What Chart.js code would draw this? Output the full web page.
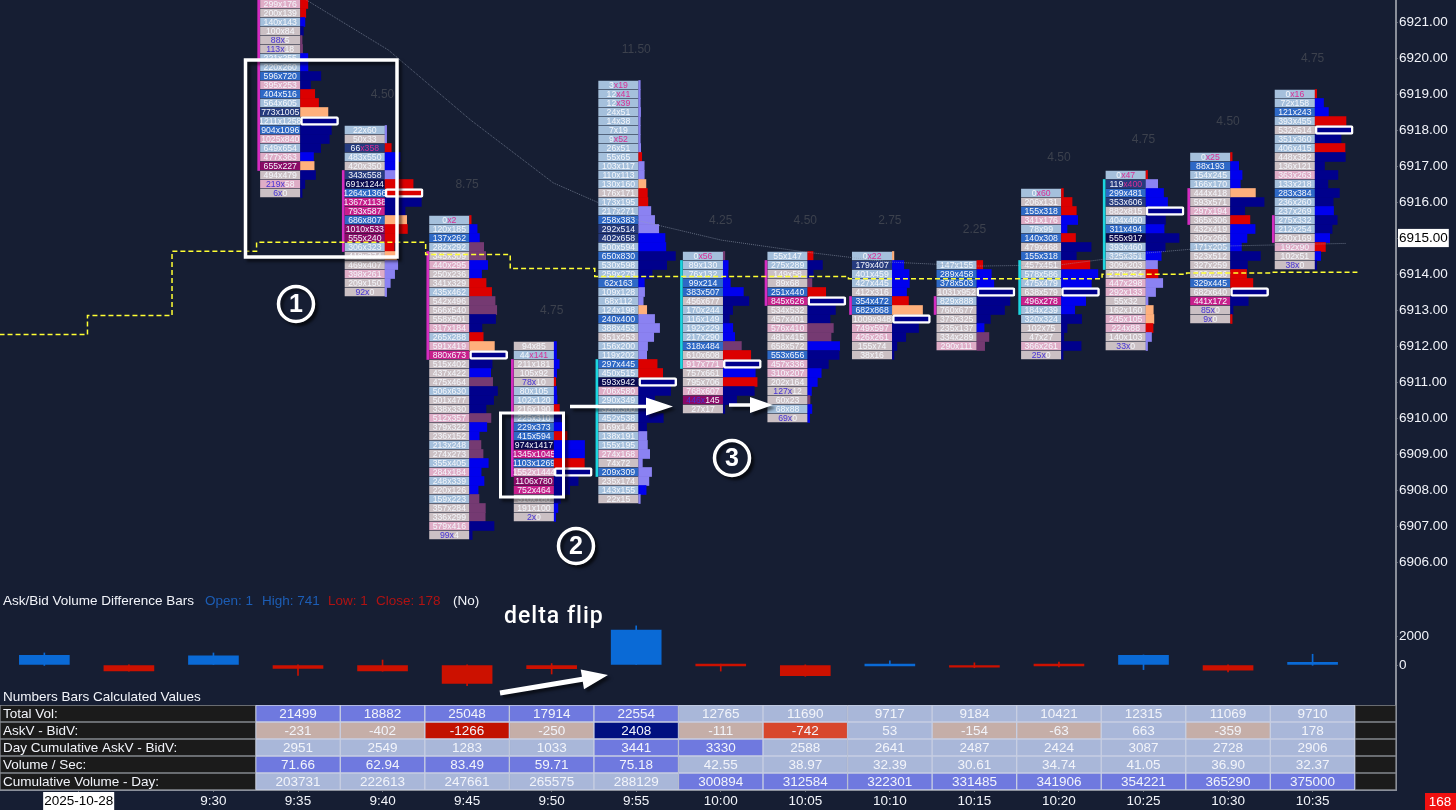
<!DOCTYPE html>
<html>
<head>
<meta charset="utf-8">
<style>
  html, body { margin: 0; padding: 0; background: #161e33; overflow: hidden; }
  canvas { display: block; }
</style>
<script src="https://cdn.jsdelivr.net/npm/chart.js@4"></script>
</head>
<body>
<canvas id="chart" width="1456" height="810"></canvas>
<script>
// bar times, first entry is the date shown on the axis
const tickLabels = ['2025-10-28', '9:30', '9:35', '9:40', '9:45', '9:50', '9:55', '10:00', '10:05', '10:10', '10:15', '10:20', '10:25', '10:30', '10:35'];
const priceTicks = [6921, 6920, 6919, 6918, 6917, 6916, 6915, 6914, 6913, 6912, 6911, 6910, 6909, 6908, 6907, 6906];

// footprint: highest price of each bar, then bid x ask from the top row down
const topPrices = [6921.5, 6918, 6915.5, 6912, 6919.25, 6914.5, 6914.5, 6914.5, 6914.25, 6916.25, 6916.75, 6917.25, 6919];
const footprints = [
  ['299x176','200x139','140x143','100x84','88x5','113x18','221x255','220x260','596x720','395x253','404x516','564x605','773x1005','1211x1258','904x1096','1025x840','649x654','477x363','655x227','494x479','219x58','6x0'],
  ['22x60','50x33','66x358','483x550','420x350','343x558','691x1244','1264x1366','1367x1138','793x587','686x807','1010x533','555x240','306x323','418x374','469x407','398x261','209x150','92x0'],
  ['0x2','120x185','137x262','282x292','345x309','440x295','250x236','341x329','435x462','542x496','566x540','558x501','317x184','265x288','591x419','880x673','515x402','437x422','475x464','506x630','501x477','338x330','512x357','379x322','236x152','213x248','274x273','355x405','284x184','248x339','220x126','159x223','357x284','336x299','579x416','99x4'],
  ['94x85','44x141','211x181','105x92','78x10','80x105','102x120','216x190','225x310','229x373','415x594','974x1417','1345x1045','1103x1269','1552x1444','1106x780','752x464','310x180','191x100','2x0'],
  ['3x19','12x41','12x39','24x51','14x38','7x19','9x52','26x51','55x65','103x117','110x113','130x160','176x171','173x195','217x271','258x383','292x514','402x658','500x594','650x830','530x598','259x279','62x163','109x128','68x112','124x198','240x400','388x453','351x253','156x200','119x202','297x445','450x515','593x942','706x580','290x349','320x300','452x538','169x146','138x191','155x195','274x168','74x72','209x309','235x174','143x155','22x15'],
  ['0x56','89x130','76x132','99x214','383x507','456x677','170x244','116x149','192x229','217x290','318x484','610x608','917x771','757x661','795x706','768x607','446x145','27x17'],
  ['55x147','275x289','149x58','89x68','251x440','845x626','534x532','457x401','576x410','481x415','658x572','553x656','457x336','310x207','202x164','127x12','60x23','68x88','69x0'],
  ['0x22','179x407','401x459','427x445','412x316','354x472','682x868','1009x948','749x597','426x261','155x74','38x16'],
  ['147x155','289x458','378x503','1031x952','829x888','760x677','373x325','235x137','334x289','290x111'],
  ['0x60','206x131','155x318','341x176','78x99','140x308','479x468','155x318','457x451','578x586','475x479','638x579','496x278','184x239','320x324','102x75','47x27','366x261','25x0'],
  ['0x47','119x400','299x481','353x606','882x815','404x460','311x494','555x917','393x460','325x351','309x203','270x264','447x298','292x133','55x32','162x160','245x105','224x88','140x103','33x0'],
  ['0x25','88x193','154x245','166x170','444x418','593x571','297x194','365x306','432x419','302x266','171x205','523x512','327x259','300x256','329x445','682x640','441x172','85x0','9x0'],
  ['0x16','72x158','121x243','393x455','532x514','351x360','406x415','448x382','136x121','363x263','133x218','283x384','236x260','237x269','275x332','212x254','230x169','192x90','102x51','38x0']
];
// one letter per row: shade of the number cell
const cellShades = ['pgagggaabpbanabpapkgpg', 'agnagndbmmbkkaggpgg', 'aabagpggagggpapmgggaggpggagapagaggpg', 'gagggaagabbdmbpkmggg', 'aaaaaaaaaaaagaabnnabaabaaabagaabadpaaagaapgbgag', 'aaabbgaaaabgpggpkg', 'aaggbmggpggbppgggag', 'anaagbbgppgg', 'abbgaggggp', 'agbpabgbgaagmaaggpg', 'anbngabdaaggppggppgg', 'abaaggpgggagggbgmgg', 'aabagaaggpabaaaagpgg'];
// one letter per row: colour of the volume profile bar
const profileShades = ['rrBDvvBBDDrroDDDDBoDDD', 'llrBBlrrDDorrrollll', 'rBBvvBBrrvvDDroDDBvDDDvBBvvBBBBvvvDD', 'BBBBrBBrDBrBBrDDDDBB', 'llllllllrllorrlllBBDDDBllolllllrrDDDDDDllllllBl', 'vBBBBDDDBBvrDBrDDD', 'rDDvrDDDvvBDDBBBvBB', 'oBBBBroDDDDD', 'rBBDDDDBvv', 'rrrBBrDDrBBDBBDDDDD', 'rlBBDDBDDBlrllloorll', 'rBBBoDDrBBBDDrrDDDr', 'rBBrDDrDDDDDDBDDBrBD'];

const rangeLabels = ['', '4.50', '8.75', '4.75', '11.50', '4.25', '4.50', '2.75', '2.25', '4.50', '4.75', '4.50', '4.75'];

// open/close body drawn beside each footprint
const bodyHigh = [6921.625, 6916.875, 6914.625, 6911.625, 6911.625, 6914.375, 6914.375, 6913.375, 6913.375, 6914.375, 6916.625, 6916.375, 6915.625];
const bodyLow = [6916.875, 6914.625, 6911.625, 6908.375, 6908.375, 6911.375, 6913.125, 6912.875, 6912.875, 6912.875, 6914.125, 6915.375, 6914.875];
const bodyUp = [false, false, false, false, true, true, false, false, false, true, true, false, false];

// yellow step line and the faint grey line, [bar position, price]
const vwapLine = [[-3.53,6912.32],[-2.49,6912.85],[-1.49,6914.63],[-0.49,6914.88],[0.51,6914.88],[1.51,6914.54],[2.51,6914.15],[3.51,6913.93],[4.51,6913.93],[5.51,6913.93],[6.51,6913.87],[7.51,6913.87],[8.51,6913.87],[9.51,6913.99],[10.51,6914.03],[11.51,6914.05],[12.53,6914.05]];
const greyLine = [[0.1,6921.61],[1.07,6920.22],[2.04,6918.28],[3.02,6916.53],[4.05,6915.47],[5.01,6914.94],[6,6914.61],[7.01,6914.33],[8.02,6914.22],[9,6914.25],[9.5,6914.4],[10.02,6914.58],[11.02,6914.78],[12.01,6914.83],[12.4,6914.85]];

// delta pane, first three bars start before the footprints
const deltaBars = [-3, -2, -1, 0, 1, 2, 3, 4, 5, 6, 7, 8, 9, 10, 11, 12];
const deltaValues = [670, -410, 640, -231, -402, -1266, -250, 2408, -111, -742, 53, -154, -63, 663, -359, 178];
const deltaHigh = [830, 20, 830, 20, 345, 20, 100, 2700, 60, 10, 280, 150, 210, 690, 10, 741];
const deltaLow = [-30, -430, 0, -710, -430, -1430, -620, 0, -420, -780, -40, -190, -140, -320, -480, -20];

// table below the chart
const rowNames = ['Total Vol:', 'AskV - BidV:', 'Day Cumulative AskV - BidV:', 'Volume / Sec:', 'Cumulative Volume - Day:'];
const totalVol = ['21499','18882','25048','17914','22554','12765','11690','9717','9184','10421','12315','11069','9710'];
const askBid = ['-231','-402','-1266','-250','2408','-111','-742','53','-154','-63','663','-359','178'];
const dayCumulative = ['2951','2549','1283','1033','3441','3330','2588','2641','2487','2424','3087','2728','2906'];
const volPerSec = ['71.66','62.94','83.49','59.71','75.18','42.55','38.97','32.39','30.61','34.74','41.05','36.90','32.37'];
const cumVolume = ['203731','222613','247661','265575','288129','300894','312584','322301','331485','341906','354221','365290','375000'];
const tableRows = [totalVol, askBid, dayCumulative, volPerSec, cumVolume];
const tableShades = ['sssssaaaaaaaa', 'ttrtntoattata', 'aaaassaaaaaaa', 'sssssaaaaaaaa', 'aaaaassssssss'];

const cellColours = { a: '#a5c0dc', b: '#2e69c6', n: '#263b7e', d: '#0a0a50', g: '#cbc0c4', p: '#dfadc7', m: '#c81f8c', k: '#8a0a66' };
const profileColours = { r: '#dc0000', B: '#0000ee', D: '#00008c', l: '#8b82f2', o: '#ffb07c', v: '#753a72' };
const tableColours = { a: '#a9b7d9', s: '#6f79df', t: '#c5aea8', r: '#c21200', n: '#001080', o: '#d8472c' };

const FONT = '"Liberation Sans", Arial, sans-serif';
const cellFrom = -0.444, cellTo = 0.024, profileFrom = 0.03, profileWidth = 0.45;

const cellData = [], cellBg = [], cellText = [];
const profileData = [], profileBg = [];
const pocData = [], pocBg = [];
footprints.forEach((rows, i) => {
  const totals = rows.map(r => r.split('x').reduce((a, b) => a + Number(b), 0));
  const most = Math.max(...totals);
  rows.forEach((label, k) => {
    const price = topPrices[i] - k * 0.25;
    cellData.push({ x: [i + cellFrom, i + cellTo], y: price });
    cellBg.push(cellColours[cellShades[i][k]]);
    cellText.push(label);
    const end = i + profileFrom + Math.max(totals[k] / most * profileWidth, 0.018);
    const colour = profileColours[profileShades[i][k]];
    if (totals[k] === most) {
      pocData.push({ x: [i + profileFrom, end], y: price });
      pocBg.push(colour);
    } else {
      profileData.push({ x: [i + profileFrom, end], y: price });
      profileBg.push(colour);
    }
  });
});

const tableData = [], tableBg = [], tableText = [];
tableRows.forEach((row, r) => {
  row.forEach((v, i) => {
    tableData.push({ x: [i - 0.5, i + 0.5], y: r + 0.5 });
    tableBg.push(tableColours[tableShades[r][i]]);
    tableText.push(v);
  });
});
const xMin = -298 / 84.55, xMax = (1396 - 298) / 84.55;
const sideData = [];
rowNames.forEach((n, r) => {
  sideData.push({ x: [xMin, -0.5], y: r + 0.5 });
  sideData.push({ x: [12.5, xMax], y: r + 0.5 });
});

const drawCellLabels = (chart, meta) => {
  const ctx = chart.ctx;
  ctx.save();
  ctx.font = '8.7px ' + FONT;
  ctx.textBaseline = 'middle';
  ctx.textAlign = 'left';
  meta.data.forEach((el, n) => {
    const [bid, ask] = cellText[n].split('x');
    const c = el.getCenterPoint();
    let left = bid + 'x', right = ask, leftCol = '#f4f6fb', rightCol = '#f4f6fb';
    if (+ask >= 3 * +bid) { left = bid; right = 'x' + ask; rightCol = '#d92f95'; }
    else if (+bid >= 3 * +ask) { leftCol = '#4733d6'; }
    const w1 = ctx.measureText(left).width, w2 = ctx.measureText(right).width;
    const sx = c.x - (w1 + w2) / 2;
    ctx.fillStyle = leftCol;
    ctx.fillText(left, sx, c.y + 0.5);
    ctx.fillStyle = rightCol;
    ctx.fillText(right, sx + w1, c.y + 0.5);
  });
  ctx.restore();
};

const shadowOn = ctx => {
  ctx.shadowColor = 'rgba(0,0,0,0.55)';
  ctx.shadowBlur = 3;
  ctx.shadowOffsetX = 3;
  ctx.shadowOffsetY = 3;
};

const drawArrow = (ctx, x1, y1, x2, y2, head, half, lw) => {
  const a = Math.atan2(y2 - y1, x2 - x1);
  ctx.save();
  shadowOn(ctx);
  ctx.translate(x1, y1);
  ctx.rotate(a);
  const len = Math.hypot(x2 - x1, y2 - y1);
  ctx.fillStyle = '#ffffff';
  ctx.beginPath();
  ctx.moveTo(0, -lw / 2);
  ctx.lineTo(len - head, -lw / 2);
  ctx.lineTo(len - head, -half);
  ctx.lineTo(len, 0);
  ctx.lineTo(len - head, half);
  ctx.lineTo(len - head, lw / 2);
  ctx.lineTo(0, lw / 2);
  ctx.closePath();
  ctx.fill();
  ctx.restore();
};

const drawBadge = (ctx, x, y, text) => {
  ctx.save();
  shadowOn(ctx);
  ctx.beginPath();
  ctx.arc(x, y, 17.5, 0, Math.PI * 2);
  ctx.fillStyle = '#161e33';
  ctx.fill();
  ctx.lineWidth = 3.5;
  ctx.strokeStyle = '#ffffff';
  ctx.stroke();
  ctx.shadowColor = 'transparent';
  ctx.fillStyle = '#ffffff';
  ctx.font = 'bold 25px ' + FONT;
  ctx.textAlign = 'center';
  ctx.textBaseline = 'middle';
  ctx.fillText(text, x, y + 1);
  ctx.restore();
};

const overlay = {
  id: 'overlay',
  afterDatasetDraw(chart, args) {
    if (args.index === 0) drawCellLabels(chart, args.meta);
  },
  afterDraw(chart) {
    const ctx = chart.ctx, x = chart.scales.x, y = chart.scales.y;
    ctx.save();

    // table text
    const tableMeta = chart.getDatasetMeta(1);
    ctx.font = '13.5px ' + FONT;
    ctx.textBaseline = 'middle';
    ctx.textAlign = 'center';
    ctx.fillStyle = '#f2f4fa';
    tableMeta.data.forEach((el, n) => {
      const c = el.getCenterPoint();
      ctx.fillText(tableText[n], c.x, c.y + 0.5);
    });
    ctx.textAlign = 'left';
    rowNames.forEach((n, r) => {
      ctx.fillText(n, 3, chart.scales.t.getPixelForValue(r + 0.5) + 0.5);
    });

    // pane titles
    ctx.fillStyle = '#f2f4fa';
    ctx.fillText('Ask/Bid Volume Difference Bars', 3, 601);
    ctx.fillText('Numbers Bars Calculated Values', 3, 697);
    ctx.fillText('(No)', 453, 601);
    ctx.fillStyle = '#1c5db5';
    ctx.fillText('Open: 1', 205, 601);
    ctx.fillText('High: 741', 262, 601);
    ctx.fillStyle = '#b01212';
    ctx.fillText('Low: 1', 328, 601);
    ctx.fillText('Close: 178', 376, 601);

    // bar range text above each footprint
    ctx.font = '12px ' + FONT;
    ctx.textAlign = 'center';
    ctx.fillStyle = '#3c414d';
    rangeLabels.forEach((t, i) => {
      if (t) ctx.fillText(t, x.getPixelForValue(i), y.getPixelForValue(topPrices[i] + 0.97));
    });

    // last volume box
    ctx.fillStyle = '#f01010';
    ctx.fillRect(1425, 793, 31, 17);
    ctx.fillStyle = '#ffffff';
    ctx.font = '13.5px ' + FONT;
    ctx.fillText('168', 1440, 802);

    // hand drawn marks on the screenshot
    ctx.save();
    shadowOn(ctx);
    ctx.strokeStyle = '#ffffff';
    ctx.lineWidth = 3.5;
    ctx.strokeRect(245.5, 60, 151.5, 197);
    ctx.lineWidth = 3;
    ctx.strokeRect(500.5, 413, 63, 84);
    ctx.restore();
    drawArrow(ctx, 570, 406.5, 673, 406.5, 27, 9, 3.5);
    drawArrow(ctx, 729, 405, 773, 405, 23, 8, 3.5);
    drawArrow(ctx, 500, 693, 608, 675, 26, 10, 5);
    drawBadge(ctx, 296, 304, '1');
    drawBadge(ctx, 576, 546, '2');
    drawBadge(ctx, 732, 458, '3');
    ctx.fillStyle = '#ffffff';
    ctx.font = '500 23px Roboto, ' + FONT;
    ctx.letterSpacing = '1px';
    ctx.textAlign = 'left';
    ctx.fillText('delta flip', 504, 617);
    ctx.restore();
  }
};

// axis labels may not push the panes in from the canvas edge
const fixBox = (s, size) => {
  if (s.isHorizontal()) s.height = size; else s.width = size;
  s.paddingTop = 0;
  s.paddingBottom = 0;
  s.paddingLeft = 0;
  s.paddingRight = 0;
};

new Chart(document.getElementById('chart'), {
  type: 'bar',
  plugins: [overlay],
  data: {
    datasets: [
      { data: cellData, indexAxis: 'y', yAxisID: 'y', xAxisID: 'x', backgroundColor: cellBg, barThickness: 8, grouped: false, order: 6 },
      { data: tableData, indexAxis: 'y', yAxisID: 't', xAxisID: 'x', backgroundColor: tableBg, borderColor: '#c7cee2', borderWidth: 1, borderSkipped: false, barThickness: 17, grouped: false, order: 7 },
      { data: sideData, indexAxis: 'y', yAxisID: 't', xAxisID: 'x', backgroundColor: '#1b1b1b', borderColor: '#85888f', borderWidth: 1, borderSkipped: false, barThickness: 17, grouped: false, order: 8 },
      { data: profileData, indexAxis: 'y', yAxisID: 'y', xAxisID: 'x', backgroundColor: profileBg, barThickness: 9, grouped: false, order: 5 },
      { data: pocData, indexAxis: 'y', yAxisID: 'y', xAxisID: 'x', backgroundColor: pocBg, borderColor: '#ffffff', borderWidth: 2.5, borderSkipped: false, borderRadius: 2, barThickness: 9, grouped: false, order: 4 },
      { data: bodyHigh.map((h, i) => ({ x: i - 0.465, y: [h, bodyLow[i]] })), yAxisID: 'y', xAxisID: 'x',
        backgroundColor: bodyUp.map(u => u ? '#1cd6e0' : '#d42cc0'), barThickness: 2, grouped: false, order: 5 },
      { data: deltaBars.map((b, i) => ({ x: b, y: [deltaLow[i], deltaHigh[i]] })), yAxisID: 'd', xAxisID: 'x',
        backgroundColor: deltaValues.map(v => v >= 0 ? '#0a6ad6' : '#cc1100'), barThickness: 1, grouped: false, order: 3 },
      { data: deltaBars.map((b, i) => ({ x: b, y: [0, deltaValues[i]] })), yAxisID: 'd', xAxisID: 'x',
        backgroundColor: deltaValues.map(v => v >= 0 ? '#0a6ad6' : '#cc1100'), barThickness: 50, minBarLength: 2, grouped: false, order: 2 },
      { type: 'line', data: greyLine.map(p => ({ x: p[0], y: p[1] })), yAxisID: 'y', xAxisID: 'x',
        borderColor: 'rgba(150,160,180,0.6)', borderWidth: 1, borderDash: [1, 1], pointRadius: 0, tension: 0, order: 1 },
      { type: 'line', data: vwapLine.map(p => ({ x: p[0], y: p[1] })), yAxisID: 'y', xAxisID: 'x',
        borderColor: '#ffff33', borderWidth: 1.5, borderDash: [5, 3], pointRadius: 0, stepped: 'before', order: 0 }
    ]
  },
  options: {
    responsive: false,
    animation: false,
    events: [],
    layout: { padding: 0 },
    font: { family: FONT },
    plugins: { legend: { display: false }, tooltip: { enabled: false }, title: { display: false } },
    scales: {
      x: {
        type: 'linear',
        min: xMin,
        max: xMax,
        offset: false,
        grid: { display: true, drawOnChartArea: false, offset: false, color: '#6a6f7a', tickLength: 2 },
        border: { color: '#8a8f9a', width: 2 },
        afterBuildTicks: s => {
          s.ticks = [{ value: -2.594 }].concat(tickLabels.slice(1).map((t, i) => ({ value: i - 1 })));
        },
        afterFit: s => fixBox(s, 20),
        ticks: {
          autoSkip: false,
          maxRotation: 0,
          padding: 1,
          font: { family: FONT, size: 13.5 },
          color: c => c.index === 0 ? '#000000' : '#f2f4fa',
          showLabelBackdrop: c => c.index === 0,
          backdropColor: '#ffffff',
          backdropPadding: 1,
          callback: (v, i) => tickLabels[i]
        }
      },
      y: {
        type: 'linear',
        axis: 'y',
        position: 'right',
        stack: 'right',
        stackWeight: 590,
        weight: 0,
        min: 6921 - 568 / 36,
        max: 6921 + 22 / 36,
        offset: false,
        beginAtZero: false,
        grid: { display: true, drawOnChartArea: false, offset: false, color: '#5a6070', tickLength: 2 },
        border: { color: '#8a8f9a', width: 2 },
        afterBuildTicks: s => { s.ticks = priceTicks.map(v => ({ value: v })); },
        afterFit: s => fixBox(s, 60),
        ticks: {
          autoSkip: false,
          padding: 1,
          crossAlign: 'near',
          font: { family: FONT, size: 13.5 },
          color: c => c.tick.value === 6915 ? '#000000' : '#f2f4fa',
          showLabelBackdrop: c => c.tick.value === 6915,
          backdropColor: '#ffffff',
          backdropPadding: 1,
          callback: v => v.toFixed(2)
        }
      },
      d: {
        type: 'linear',
        axis: 'y',
        position: 'right',
        stack: 'right',
        stackWeight: 115,
        weight: 1,
        min: -40 / 29 * 2000,
        max: 75 / 29 * 2000,
        offset: false,
        beginAtZero: false,
        grid: { display: true, drawOnChartArea: false, offset: false, color: '#5a6070', tickLength: 2 },
        border: { color: '#8a8f9a', width: 2 },
        afterBuildTicks: s => { s.ticks = [{ value: 2000 }, { value: 0 }]; },
        afterFit: s => fixBox(s, 60),
        ticks: {
          autoSkip: false,
          padding: 1,
          crossAlign: 'near',
          font: { family: FONT, size: 13.5 },
          color: '#f2f4fa',
          callback: v => String(v)
        }
      },
      t: {
        type: 'linear',
        axis: 'y',
        position: 'right',
        stack: 'right',
        stackWeight: 85,
        weight: 2,
        reverse: true,
        min: 0,
        max: 5,
        offset: false,
        beginAtZero: false,
        grid: { display: false, offset: false },
        border: { color: '#8a8f9a', width: 2 },
        afterFit: s => fixBox(s, 60),
        ticks: { display: false }
      }
    }
  }
});
</script>
</body>
</html>
